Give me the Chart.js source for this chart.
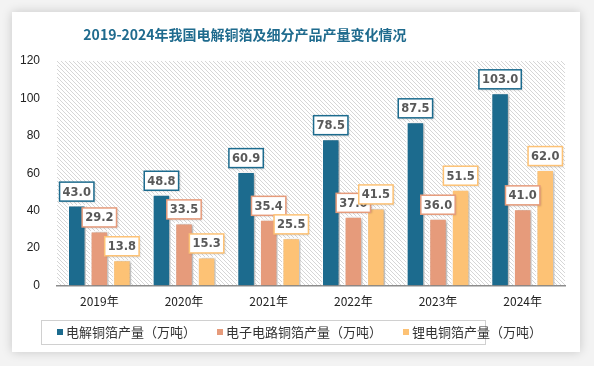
<!DOCTYPE html>
<html>
<head>
<meta charset="utf-8">
<script src="https://cdn.jsdelivr.net/npm/chart.js@4"></script>
<style>
  html, body { margin: 0; padding: 0; }
  body { width: 594px; height: 366px; background: #f3f3f3; position: relative; overflow: hidden; }
  #card { position: absolute; left: 12px; top: 12px; width: 568px; height: 340px; background: #fff;
          box-shadow: 0 0 10px rgba(0,0,0,0.18); }
  #title { position: absolute; left: 0; top: 12px; width: 466px; text-align: center;
           font: bold 14px "Noto Sans CJK SC", serif; color: #1f6b8e; }
  #wrap { position: absolute; left: 0; top: 0; width: 568px; height: 340px; }
</style>
</head>
<body>
<div id="card">
  <div id="wrap"><canvas id="chart"></canvas></div>
  <div id="title">2019-2024年我国电解铜箔及细分产品产量变化情况</div>
</div>
<script>
// categories and values
const years = ['2019年', '2020年', '2021年', '2022年', '2023年', '2024年'];
const electrolytic = [43.0, 48.8, 60.9, 78.5, 87.5, 103.0];
const circuit = [29.2, 33.5, 35.4, 37.0, 36.0, 41.0];
const lithium = [13.8, 15.3, 25.5, 41.5, 51.5, 62.0];
const yTicks = [0, 20, 40, 60, 80, 100, 120];

const seriesNames = ['电解铜箔产量（万吨）', '电子电路铜箔产量（万吨）', '锂电铜箔产量（万吨）'];
const seriesColors = ['#1c6b8e', '#e69b7b', '#fdc275'];

// hatched plot background
function makeHatch(ctx) {
    const c = document.createElement('canvas');
    c.width = 4; c.height = 4;
    const p = c.getContext('2d');
    p.fillStyle = '#ffffff';
    p.fillRect(0, 0, 4, 4);
    p.fillStyle = '#d6d6d6';
    for (let i = 0; i < 4; i++) p.fillRect(i, i, 1, 1);
    return ctx.createPattern(c, 'repeat');
}

const hatchPlugin = {
    id: 'hatch',
    beforeDraw(chart) {
        const { ctx, chartArea: a } = chart;
        ctx.save();
        ctx.fillStyle = makeHatch(ctx);
        ctx.fillRect(a.left, a.top, a.right - a.left, a.bottom - a.top);
        ctx.restore();
    }
};

const shadowPlugin = {
    id: 'barShadow',
    beforeDatasetsDraw(chart) {
        const ctx = chart.ctx;
        ctx.save();
        ctx.shadowColor = 'rgba(0,0,0,0.3)';
        ctx.shadowBlur = 3;
        ctx.shadowOffsetX = 2;
        ctx.shadowOffsetY = 1;
    },
    afterDatasetsDraw(chart) {
        chart.ctx.restore();
    }
};

const labelPlugin = {
    id: 'boxLabels',
    afterDatasetsDraw(chart) {
        const ctx = chart.ctx;
        ctx.save();
        ctx.font = 'bold 11.5px "DejaVu Sans", sans-serif';
        ctx.textAlign = 'center';
        ctx.textBaseline = 'middle';
        chart.data.datasets.forEach((ds, i) => {
            chart.getDatasetMeta(i).data.forEach((bar, j) => {
                const txt = ds.data[j].toFixed(1);
                const w = ctx.measureText(txt).width + 6;
                const h = 19;
                const x = bar.x - w / 2;
                const y = bar.y - 4 - h;
                ctx.shadowColor = 'rgba(0,0,0,0.2)';
                ctx.shadowBlur = 2;
                ctx.shadowOffsetX = 1;
                ctx.shadowOffsetY = 1;
                ctx.fillStyle = '#fff';
                ctx.fillRect(x, y, w, h);
                ctx.shadowColor = 'transparent';
                ctx.strokeStyle = seriesColors[i];
                ctx.lineWidth = 1.5;
                ctx.strokeRect(x, y, w, h);
                ctx.fillStyle = '#595959';
                ctx.fillText(txt, bar.x, y + h / 2 + 1);
            });
        });
        ctx.restore();
    }
};

// legend in a thin grey frame below the x axis
const legendPlugin = {
    id: 'framedLegend',
    afterDraw(chart) {
        const ctx = chart.ctx;
        const cy = 320;
        ctx.save();
        ctx.strokeStyle = '#d0d0d0';
        ctx.lineWidth = 1;
        ctx.strokeRect(29.5, 308.5, 444, 24);
        ctx.font = '13px "Noto Sans CJK SC", sans-serif';
        ctx.textBaseline = 'middle';
        let x = 45;
        chart.data.datasets.forEach((ds, i) => {
            ctx.fillStyle = seriesColors[i];
            ctx.fillRect(x, cy - 3, 6, 6);
            ctx.fillStyle = '#333';
            ctx.fillText(ds.label, x + 9, cy);
            x += 9 + ctx.measureText(ds.label).width + 21;
        });
        ctx.restore();
    }
};

const ctx = document.getElementById('chart').getContext('2d');
const chart = new Chart(ctx, {
    type: 'bar',
    data: {
        labels: years,
        datasets: [electrolytic, circuit, lithium].map((d, i) => ({
            label: seriesNames[i],
            data: d,
            backgroundColor: seriesColors[i],
            borderColor: '#ffffff',
            borderWidth: 1.5,
            categoryPercentage: 0.8,
            barPercentage: 0.82
        }))
    },
    options: {
        responsive: true,
        maintainAspectRatio: false,
        animation: false,
        layout: { padding: { left: 0, right: 15, top: 49, bottom: 34 } },
        plugins: {
            legend: { display: false },
            tooltip: { enabled: false }
        },
        scales: {
            x: {
                grid: { display: false, drawTicks: false },
                border: { color: '#8c8c8c', width: 1.5 },
                ticks: { color: '#222', padding: 9, font: { size: 12, family: '"Noto Sans CJK SC", sans-serif' } }
            },
            y: {
                min: 0,
                max: 120,
                afterBuildTicks(axis) { axis.ticks = yTicks.map(v => ({ value: v })); },
                afterFit(axis) { axis.width = 45; },
                grid: { display: false, drawTicks: false },
                border: { display: false },
                ticks: { color: '#222', padding: 17, font: { size: 12, family: '"Liberation Sans", sans-serif' } }
            }
        }
    },
    plugins: [hatchPlugin, shadowPlugin, labelPlugin, legendPlugin]
});
</script>
</body>
</html>
